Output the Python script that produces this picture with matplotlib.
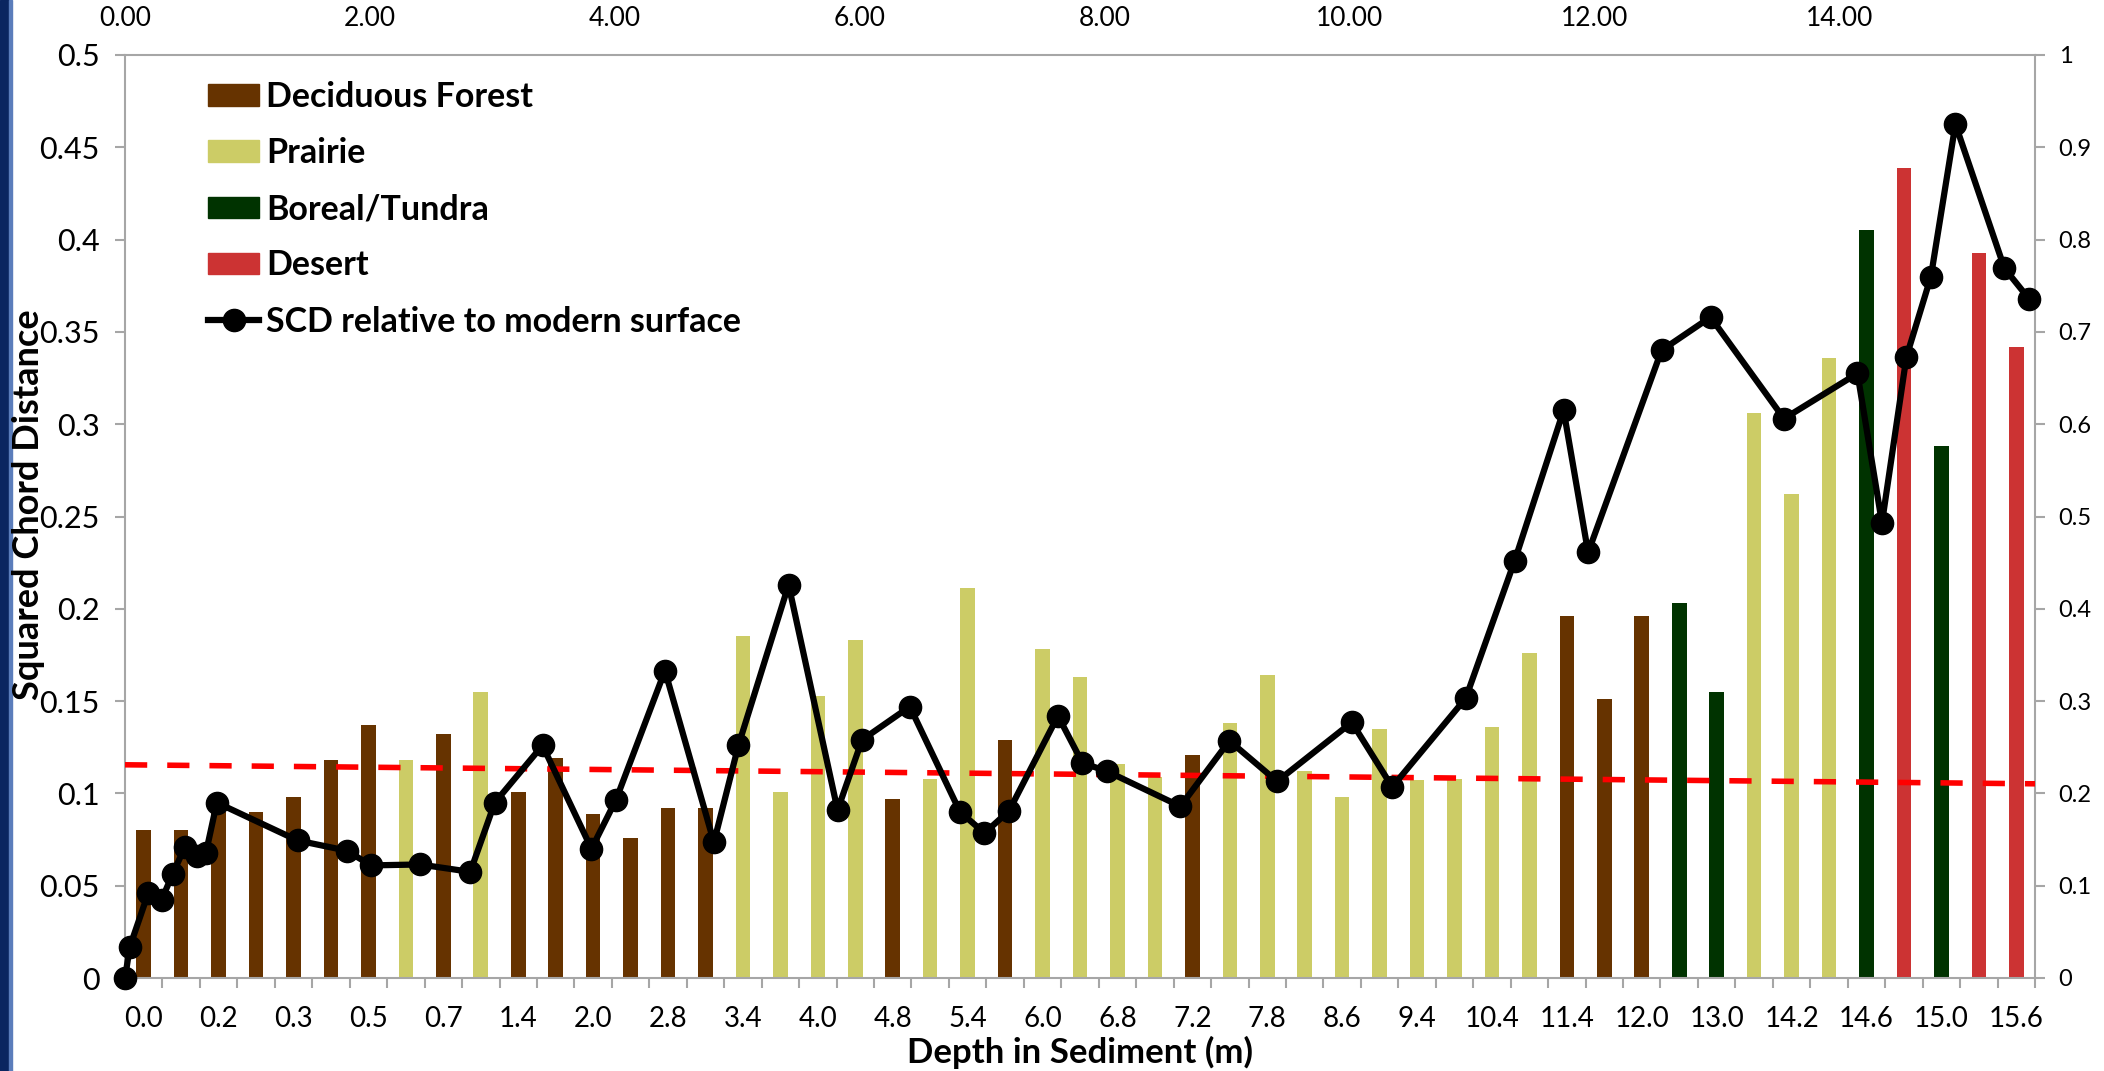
import matplotlib
matplotlib.use('Agg')
import matplotlib.pyplot as plt
from matplotlib.patches import Patch, Rectangle
from matplotlib.lines import Line2D
import numpy as np

plt.rcParams['font.family'] = ['Lato', 'DejaVu Sans']

# bar data: one value per sample (categorical bottom axis)
bar_values = [0.080, 0.080, 0.090, 0.090, 0.098, 0.118, 0.137, 0.118, 0.132, 0.155,
              0.101, 0.119, 0.089, 0.076, 0.092, 0.092, 0.185, 0.101, 0.153, 0.183,
              0.097, 0.108, 0.211, 0.129, 0.178, 0.163, 0.116, 0.109, 0.121, 0.138,
              0.164, 0.112, 0.098, 0.135, 0.107, 0.108, 0.136, 0.176, 0.196, 0.151,
              0.196, 0.203, 0.155, 0.306, 0.262, 0.336, 0.405, 0.439, 0.288, 0.393,
              0.342]
bar_types = ['D', 'D', 'D', 'D', 'D', 'D', 'D', 'P', 'D', 'P',
             'D', 'D', 'D', 'D', 'D', 'D', 'P', 'P', 'P', 'P',
             'D', 'P', 'P', 'D', 'P', 'P', 'P', 'P', 'D', 'P',
             'P', 'P', 'P', 'P', 'P', 'P', 'P', 'P', 'D', 'D',
             'D', 'B', 'B', 'P', 'P', 'P', 'B', 'R', 'B', 'R',
             'R']
depth_labels = ['0.0', '0.2', '0.3', '0.5', '0.7', '1.4', '2.0', '2.8', '3.4', '4.0',
                '4.8', '5.4', '6.0', '6.8', '7.2', '7.8', '8.6', '9.4', '10.4', '11.4',
                '12.0', '13.0', '14.2', '14.6', '15.0', '15.6']

# SCD line (top depth axis, right value axis)
scd_depth = [0.0, 0.04, 0.19, 0.30, 0.39, 0.49, 0.59, 0.66, 0.75, 1.41,
             1.81, 2.01, 2.41, 2.82, 3.02, 3.41, 3.81, 4.01, 4.41, 4.81,
             5.01, 5.42, 5.82, 6.02, 6.41, 6.82, 7.02, 7.22, 7.62, 7.82,
             8.02, 8.62, 9.02, 9.41, 10.02, 10.35, 10.95, 11.35, 11.75, 11.95,
             12.55, 12.95, 13.55, 14.15, 14.35, 14.55, 14.75, 14.95, 15.35, 15.55]
scd_value = [0.0, 0.034, 0.092, 0.085, 0.113, 0.142, 0.132, 0.135, 0.190, 0.149,
             0.138, 0.122, 0.123, 0.115, 0.190, 0.252, 0.140, 0.193, 0.333, 0.147,
             0.252, 0.426, 0.182, 0.258, 0.294, 0.180, 0.157, 0.181, 0.284, 0.233,
             0.224, 0.186, 0.257, 0.213, 0.277, 0.207, 0.303, 0.452, 0.615, 0.461,
             0.680, 0.716, 0.606, 0.655, 0.493, 0.673, 0.760, 0.925, 0.769, 0.736]

# dashed red trend (start / end value on left axis)
trend_values = [0.1155, 0.1052]

colors = {'D': '#663300', 'P': '#CCCC66', 'B': '#003300', 'R': '#CC3333'}
names = {'D': 'Deciduous Forest', 'P': 'Prairie', 'B': 'Boreal/Tundra', 'R': 'Desert'}
spine_col = '#A6A6A6'

fig = plt.figure(figsize=(21.04, 10.71), dpi=100)
pos = [125 / 2104, 1 - 978 / 1071, (2035 - 125) / 2104, (978 - 55) / 1071]
ax = fig.add_axes(pos)

n = len(bar_values)
x = np.arange(n)
ax.bar(x, bar_values, width=0.39, color=[colors[t] for t in bar_types], zorder=2)
ax.plot([-0.5, n - 0.5], trend_values, color='#FF0000', lw=4, dashes=(4, 3.6), zorder=3)

ax.set_xlim(-0.5, n - 0.5)
ax.set_ylim(0, 0.5)
ax.set_yticks(np.arange(0, 0.501, 0.05))
ax.set_yticklabels(['0', '0.05', '0.1', '0.15', '0.2', '0.25', '0.3', '0.35', '0.4', '0.45', '0.5'])
ax.set_xticks(np.arange(-0.5, n, 1.0))
ax.set_xticklabels([])
ax.set_xticks(x[::2], minor=True)
ax.set_xticklabels(depth_labels, minor=True)
ax.tick_params(axis='x', which='major', length=7, width=1.5, color=spine_col, direction='out')
ax.tick_params(axis='x', which='minor', length=0, pad=20, labelsize=20)
ax.tick_params(axis='y', length=7, width=1.5, color=spine_col, pad=11, labelsize=22)
for s in ax.spines.values():
    s.set_color(spine_col)
    s.set_linewidth(1.5)

ax2 = fig.add_axes(pos, frameon=False)
ax2.plot(scd_depth, scd_value, color='black', lw=4.5, marker='o', markersize=16,
         zorder=5, clip_on=False)
ax2.set_xlim(0, 15.6)
ax2.set_ylim(0, 1)
ax2.xaxis.tick_top()
ax2.yaxis.tick_right()
ax2.set_xticks(np.arange(0, 15, 2))
ax2.set_xticklabels([f'{v:.2f}' for v in np.arange(0, 15, 2)])
ax2.set_yticks(np.arange(0, 1.01, 0.1))
ax2.set_yticklabels(['0', '0.1', '0.2', '0.3', '0.4', '0.5', '0.6', '0.7', '0.8', '0.9', '1'])
ax2.tick_params(axis='x', length=0, pad=17, labelsize=19)
ax2.tick_params(axis='y', length=7, width=1.5, color=spine_col, pad=10, labelsize=17)

fig.text(29 / 2104, 1 - 505 / 1071, 'Squared Chord Distance', rotation=90,
         ha='center', va='center', fontsize=26, fontweight='bold')
fig.text(1080 / 2104, 1 - 1052 / 1071, 'Depth in Sediment (m)',
         ha='center', va='center', fontsize=25, fontweight='bold')

handles = [Patch(color=colors[k], label=names[k]) for k in ['D', 'P', 'B', 'R']]
handles.append(Line2D([], [], color='black', lw=4.5, marker='o', markersize=16,
                      label='SCD relative to modern surface'))
leg = ax2.legend(handles=handles, loc='upper left', bbox_to_anchor=(208 / 2104, 1 - 81 / 1071),
                 bbox_transform=fig.transFigure, frameon=False, fontsize=24.5,
                 handlelength=1.5, handleheight=0.6, handletextpad=0.2,
                 labelspacing=0.71, borderpad=0, borderaxespad=0)
for t in leg.get_texts():
    t.set_fontweight('bold')

# slide edge strip at the left
fig.patches.append(Rectangle((0, 0), 9 / 2104, 1, transform=fig.transFigure,
                             color='#0B2660', zorder=0))
fig.patches.append(Rectangle((9 / 2104, 0), 3 / 2104, 1, transform=fig.transFigure,
                             color='#5B7DBB', zorder=0))

fig.savefig('out.png', dpi=100)
